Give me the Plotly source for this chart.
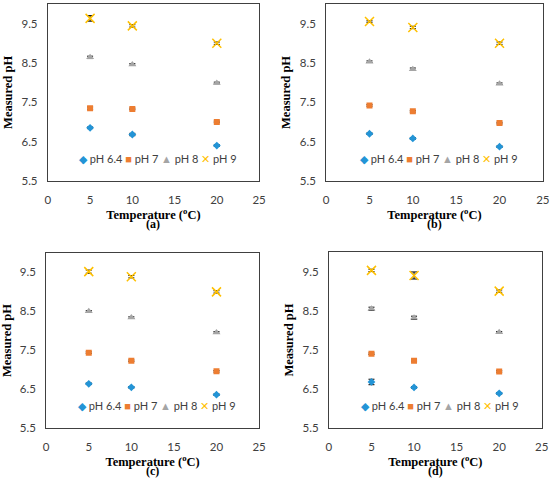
import plotly.graph_objects as go

# temperatures (oC) shared by all four panels
temps = [5, 10, 20]
series_names = ["pH 6.4", "pH 7", "pH 8", "pH 9"]
panel_labels = ["(a)", "(b)", "(c)", "(d)"]

# measured pH, one list per buffer, per panel
a_ph64 = [6.85, 6.68, 6.40]
a_ph7 = [7.35, 7.33, 7.00]
a_ph8 = [8.64, 8.46, 7.99]
a_ph9 = [9.63, 9.44, 9.00]
b_ph64 = [6.70, 6.58, 6.37]
b_ph7 = [7.42, 7.27, 6.97]
b_ph8 = [8.53, 8.34, 7.97]
b_ph9 = [9.55, 9.40, 9.00]
c_ph64 = [6.64, 6.55, 6.36]
c_ph7 = [7.44, 7.23, 6.96]
c_ph8 = [8.50, 8.34, 7.96]
c_ph9 = [9.52, 9.39, 9.00]
d_ph64 = [6.68, 6.54, 6.39]
d_ph7 = [7.40, 7.22, 6.95]
d_ph8 = [8.55, 8.32, 7.95]
d_ph9 = [9.53, 9.40, 9.00]

# standard deviations (error bars)
a_err64 = [0.02, 0.03, 0.02]
a_err7 = [0.03, 0.02, 0.02]
a_err8 = [0.03, 0.02, 0.02]
a_err9 = [0.07, 0.03, 0.03]
b_err64 = [0.02, 0.02, 0.02]
b_err7 = [0.02, 0.02, 0.02]
b_err8 = [0.02, 0.03, 0.02]
b_err9 = [0.02, 0.03, 0.03]
c_err64 = [0.02, 0.02, 0.02]
c_err7 = [0.02, 0.02, 0.02]
c_err8 = [0.02, 0.02, 0.02]
c_err9 = [0.04, 0.03, 0.03]
d_err64 = [0.07, 0.02, 0.02]
d_err7 = [0.02, 0.02, 0.02]
d_err8 = [0.04, 0.04, 0.02]
d_err9 = [0.03, 0.09, 0.03]

panels = [
    ([a_ph64, a_ph7, a_ph8, a_ph9], [a_err64, a_err7, a_err8, a_err9]),
    ([b_ph64, b_ph7, b_ph8, b_ph9], [b_err64, b_err7, b_err8, b_err9]),
    ([c_ph64, c_ph7, c_ph8, c_ph9], [c_err64, c_err7, c_err8, c_err9]),
    ([d_ph64, d_ph7, d_ph8, d_ph9], [d_err64, d_err7, d_err8, d_err9]),
]

colors = ["#2394D6", "#ED7D31", "#A5A5A5", "#FFC000"]
symbols = ["diamond", "square", "triangle-up", "x-thin"]
sizes = [6, 6, 7, 9]
glyphs = ["\u25C6", "\u25A0", "\u25B2", "\u2715"]

# plot area positions (paper fractions) for a, b, c, d
xdomains = [[0.087, 0.471], [0.593, 0.987], [0.084, 0.471], [0.598, 0.985]]
ydomains = [[0.623, 0.992], [0.623, 0.992], [0.108, 0.473], [0.108, 0.475]]

fig = go.Figure()
tickfont = dict(family="Lato", size=11.5, color="#404040")
titlefont = dict(family="Liberation Serif", size=12.5, color="black")

for p in range(4):
    ys, errs = panels[p]
    xa = "x" if p == 0 else "x%d" % (p + 1)
    ya = "y" if p == 0 else "y%d" % (p + 1)
    for i in range(4):
        mk = dict(symbol=symbols[i], size=sizes[i], color=colors[i])
        if symbols[i] == "x-thin":
            mk["line"] = dict(color=colors[i], width=1.5)
        fig.add_trace(go.Scatter(
            x=temps, y=ys[i], mode="markers", name=series_names[i],
            marker=mk, showlegend=False, xaxis=xa, yaxis=ya,
            error_y=dict(type="data", array=errs[i], color="black",
                         thickness=1, width=3),
        ))
    sfx = "" if p == 0 else str(p + 1)
    fig.layout["xaxis" + sfx] = dict(
        domain=xdomains[p], anchor=ya, range=[0, 25], dtick=5,
        showgrid=False, zeroline=False, showline=True, mirror=True,
        linecolor="#404040", linewidth=1, ticks="", tickfont=tickfont,
        ticklabelstandoff=8, automargin=False,
        title=dict(text="<b>Temperature (<sup>o</sup>C)</b>", font=titlefont,
                   standoff=4),
    )
    fig.layout["yaxis" + sfx] = dict(
        domain=ydomains[p], anchor=xa, range=[5.5, 10], tick0=5.5, dtick=1,
        showgrid=False, zeroline=False, showline=True, mirror=True,
        linecolor="#404040", linewidth=1, ticks="", tickfont=tickfont,
        ticklabelstandoff=7, automargin=False,
        title=dict(text="<b>Measured pH</b>", font=titlefont, standoff=6),
    )
    # compact legend inside the plot area
    parts = []
    for i in range(4):
        parts.append("<span style='color:%s'>%s</span> %s"
                     % (colors[i], glyphs[i], series_names[i]))
    fig.add_annotation(
        xref=xa + " domain", yref=ya + " domain", x=0.52, y=0.08,
        text=" ".join(parts), showarrow=False,
        font=dict(family="Lato", size=11, color="#404040"),
    )
    fig.add_annotation(
        xref=xa + " domain", yref=ya + " domain", x=0.5, y=-0.245,
        yanchor="middle", text="<b>%s</b>" % panel_labels[p], showarrow=False,
        font=dict(family="Liberation Serif", size=12, color="black"),
    )

fig.update_layout(
    width=550, height=480,
    margin=dict(l=0, r=0, t=0, b=0),
    plot_bgcolor="white", paper_bgcolor="white",
)

# drop the page's default body margin so the figure sits at the window corner
fig.write_html("out.html", config={"displayModeBar": False},
               post_script="document.body.style.margin='0px';")
